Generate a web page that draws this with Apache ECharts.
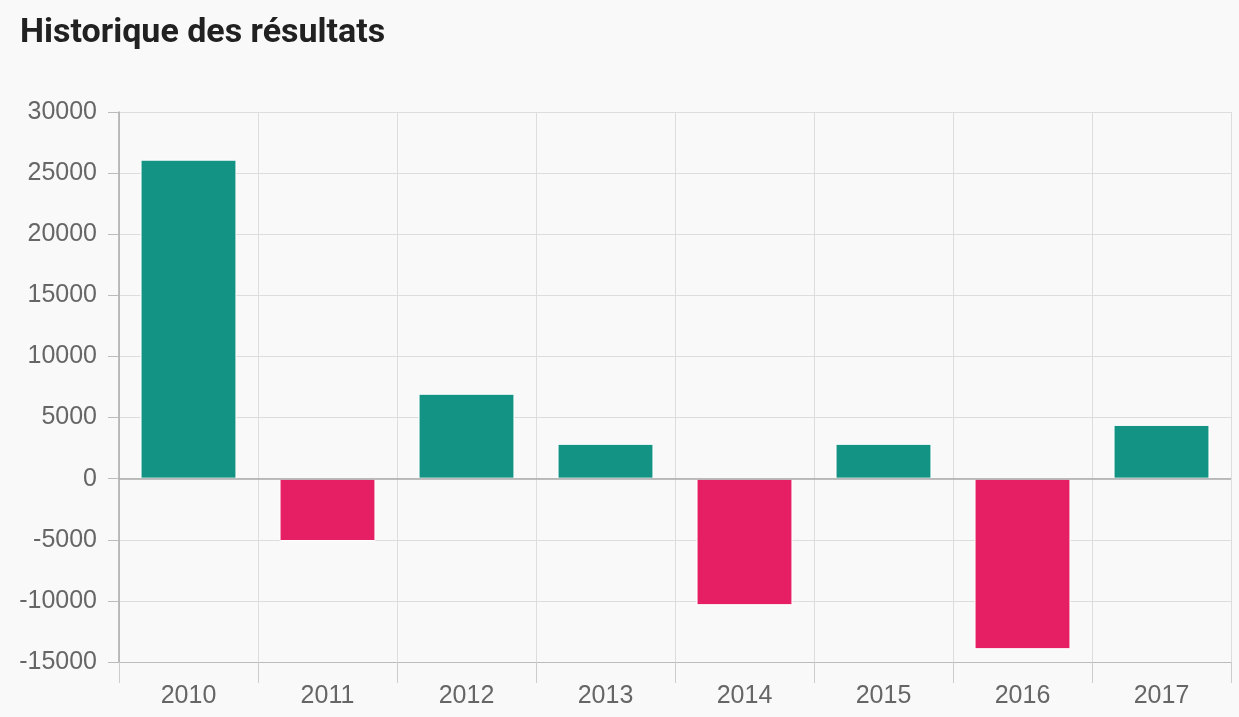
<!DOCTYPE html>
<html>
<head>
<meta charset="utf-8">
<style>
  html, body { margin: 0; padding: 0; background: #f9f9f9; }
  #chart { width: 1239px; height: 717px; }
</style>
<script src="https://cdn.jsdelivr.net/npm/echarts@6/dist/echarts.min.js"></script>
</head>
<body>
<div id="chart"></div>
<script>
const years = ['2010', '2011', '2012', '2013', '2014', '2015', '2016', '2017'];
const results = [26100, -5100, 6950, 2850, -10350, 2850, -13950, 4400];
const yTicks = { min: -15000, max: 30000, interval: 5000 };

const chart = echarts.init(document.getElementById('chart'));
chart.setOption({
  backgroundColor: '#f9f9f9',
  animation: false,
  title: {
    text: 'Historique des résultats',
    left: 15,
    top: 11,
    textStyle: { fontFamily: 'Roboto', fontWeight: 'bold', fontSize: 34, color: '#212121' }
  },
  grid: { left: 119, right: 8, top: 112, bottom: 55 },
  xAxis: {
    type: 'category',
    data: years,
    axisLine: { onZero: false, lineStyle: { color: '#bbbbbb', width: 1 } },
    axisTick: { show: true, length: 21, lineStyle: { color: '#cccccc' } },
    axisLabel: { fontFamily: 'Liberation Sans', fontSize: 25, color: '#666666', margin: 22 },
    splitLine: { show: true, lineStyle: { color: '#dddddd', width: 1 } }
  },
  yAxis: {
    type: 'value',
    min: yTicks.min,
    max: yTicks.max,
    interval: yTicks.interval,
    axisLine: { show: true, lineStyle: { color: '#aaaaaa', width: 1.5 } },
    axisTick: { show: true, length: 11, lineStyle: { color: '#bbbbbb' } },
    axisLabel: {
      fontFamily: 'Liberation Sans', fontSize: 25, color: '#666666', margin: 22,
      formatter: v => String(v)
    },
    splitLine: { show: true, lineStyle: { color: '#dddddd', width: 1 } }
  },
  series: [{
    type: 'bar',
    barWidth: '69%',
    data: results.map(v => ({
      value: v,
      itemStyle: { color: v >= 0 ? '#139384' : '#e61e63', borderColor: '#ffffff', borderWidth: 1 }
    })),
    markLine: {
      silent: true,
      symbol: 'none',
      label: { show: false },
      lineStyle: { color: '#aaaaaa', type: 'solid', width: 1.5 },
      data: [{ yAxis: 0 }]
    }
  }]
});
</script>
</body>
</html>
